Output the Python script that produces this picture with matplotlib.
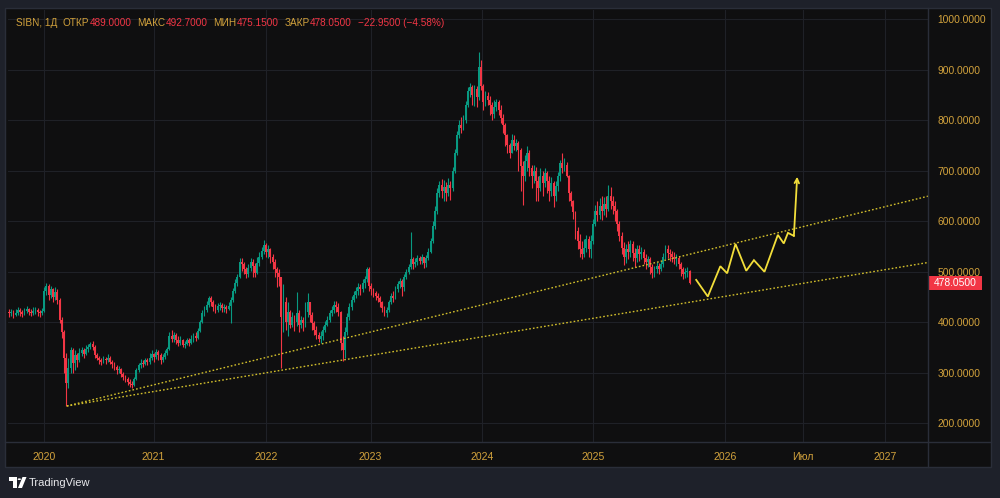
import matplotlib.pyplot as plt
from matplotlib.patches import Rectangle, Polygon, Circle
from matplotlib.lines import Line2D
import numpy as np

plt.rcParams['font.family'] = ['Liberation Sans', 'DejaVu Sans']

# weekly candles, Sep 2019 .. Oct 2025 (open = previous close)
first_open = 420.0
closes = [
    418, 421, 415, 419, 424, 420, 417, 422, 426, 421, 419, 423, 425, 420, 418, 422,
    462, 472, 455, 465, 450, 460, 445, 405, 380, 330, 280,
    310, 345, 320, 335, 325, 340, 345, 338, 348, 352, 358, 352,
    335, 330, 325, 322, 328, 325, 330, 322, 318, 312, 305, 308, 298, 292, 288, 282, 278, 276,
    288, 305, 315, 320, 318, 325, 322, 330, 338, 332, 342, 335, 325, 332, 340, 348,
    372, 368, 375, 365, 360, 366, 356, 358, 365, 360, 368, 372, 370, 382,
    400, 418, 425, 435, 448, 440, 430, 425, 432, 435, 428, 430, 426, 432,
    445, 462, 478, 490, 520, 515, 505, 495, 508, 520, 512, 498, 518, 530, 542, 552, 540, 545, 530, 520, 505, 498, 490,
    410, 440, 400, 420, 395, 410, 400, 418, 395, 405, 398, 420, 440, 415, 398, 385, 375, 368, 372, 385, 395, 405, 418, 425, 435, 430, 420,
    360, 345, 380, 410, 430, 445, 455, 462, 470, 466, 478, 485, 505,
    472, 465, 458, 452, 448, 440, 428, 418, 425, 440, 452, 448, 465, 475, 482, 470, 490, 500, 510, 525, 515, 520, 528, 522, 530, 518, 528,
    540, 560, 590, 620, 655, 672, 660, 668, 655, 672, 665, 700, 735, 770, 790, 785, 800, 830, 858, 865, 850, 862, 845,
    905, 868, 835, 848, 840, 830, 812, 825, 835, 820, 805, 790, 770, 750, 735, 760, 748,
    755, 740, 710, 690, 720, 735, 705, 690, 700, 680, 665, 690, 675, 695, 680, 660, 675, 650, 670, 690, 715, 705, 712, 690,
    655, 640, 618, 580, 560, 545, 535, 548, 565, 545, 560, 595, 620, 612, 630, 620, 635, 625, 650, 640, 630, 620, 595, 570, 548,
    530, 545, 540, 555, 538, 528, 545, 535, 540, 528, 520, 525, 510, 498, 505, 512, 505, 515, 530, 545, 538, 535, 530, 525, 528, 515, 505, 495, 500, 501, 478.05,
]
highs = [
    426, 427, 424, 426, 430, 428, 425, 429, 432, 429, 426, 430, 431, 428, 425, 428,
    470, 478, 475, 472, 468, 470, 466, 448, 410, 385, 340,
    330, 352, 350, 345, 340, 350, 352, 350, 355, 358, 362, 363,
    355, 340, 334, 330, 333, 332, 338, 334, 326, 322, 316, 314, 310, 302, 296, 292, 288, 284,
    292, 310, 320, 328, 326, 330, 330, 340, 345, 340, 348, 346, 340, 338, 345, 352,
    380, 385, 380, 378, 372, 372, 368, 364, 370, 370, 374, 378, 380, 388,
    405, 424, 432, 442, 452, 452, 444, 436, 438, 440, 438, 436, 434, 440,
    450, 468, 486, 496, 528, 527, 520, 510, 515, 528, 526, 518, 530, 540, 550, 563, 556, 552, 548, 535, 525, 510, 505,
    490, 475, 450, 440, 425, 420, 415, 460, 425, 412, 410, 440, 458, 440, 420, 402, 392, 380, 382, 392, 402, 412, 425, 432, 442, 442, 438,
    422, 372, 390, 418, 438, 452, 462, 470, 478, 476, 485, 492, 510,
    510, 478, 468, 462, 458, 452, 442, 432, 430, 445, 458, 462, 472, 482, 488, 486, 495, 506, 515, 579, 530, 528, 534, 532, 536, 530, 534,
    548, 566, 600, 630, 665, 680, 684, 682, 678, 686, 680, 708, 742, 778, 800, 806, 810, 838, 865, 873, 870, 870, 868,
    935, 918, 872, 858, 855, 848, 835, 840, 842, 840, 830, 812, 795, 772, 755, 772, 770,
    762, 758, 745, 720, 730, 748, 740, 712, 712, 708, 690, 705, 700, 705, 700, 690, 688, 680, 680, 698, 722, 735, 725, 718,
    692, 660, 642, 620, 588, 575, 560, 565, 572, 570, 572, 605, 632, 640, 645, 650, 648, 650, 672, 668, 650, 640, 625, 600, 578,
    558, 555, 560, 563, 560, 548, 552, 552, 550, 546, 535, 532, 530, 515, 512, 520, 518, 522, 538, 553, 552, 545, 542, 540, 535, 532, 520, 510, 508, 510, 503,
]
lows = [
    411, 413, 409, 412, 415, 413, 410, 414, 418, 414, 412, 415, 417, 413, 411, 414,
    420, 455, 445, 448, 440, 445, 436, 398, 370, 300, 234,
    270, 300, 300, 305, 312, 322, 333, 330, 335, 342, 347, 345,
    330, 325, 318, 316, 320, 318, 322, 318, 310, 306, 298, 300, 292, 285, 282, 276, 272, 270,
    274, 285, 302, 310, 312, 315, 316, 318, 326, 322, 328, 326, 318, 322, 328, 335,
    345, 362, 362, 358, 354, 356, 352, 350, 355, 354, 358, 362, 364, 368,
    380, 398, 412, 420, 430, 432, 422, 418, 420, 424, 420, 420, 418, 424,
    398, 440, 458, 472, 488, 502, 496, 488, 490, 502, 490, 490, 495, 512, 525, 535, 530, 528, 518, 505, 490, 470, 472,
    310, 380, 385, 372, 388, 390, 382, 392, 380, 388, 382, 390, 410, 400, 385, 375, 368, 362, 360, 366, 380, 392, 400, 412, 418, 420, 412,
    345, 324, 330, 375, 405, 425, 440, 448, 455, 455, 460, 468, 480,
    462, 455, 450, 444, 440, 430, 420, 412, 411, 420, 436, 440, 446, 460, 468, 452, 462, 485, 495, 505, 506, 510, 514, 515, 515, 508, 510,
    524, 538, 556, 585, 615, 648, 645, 640, 640, 650, 642, 660, 695, 730, 765, 775, 780, 795, 825, 845, 830, 828, 826,
    840, 860, 820, 828, 830, 810, 800, 805, 818, 810, 795, 775, 748, 735, 725, 735, 740,
    738, 700, 660, 632, 680, 700, 690, 665, 675, 640, 640, 660, 650, 668, 655, 640, 650, 628, 640, 660, 680, 695, 700, 688,
    640, 630, 605, 565, 545, 530, 525, 530, 540, 530, 528, 555, 590, 600, 605, 602, 612, 608, 620, 625, 615, 600, 580, 560, 535,
    513, 518, 525, 530, 522, 510, 520, 522, 525, 515, 505, 510, 495, 488, 490, 498, 495, 502, 510, 525, 528, 522, 520, 515, 512, 505, 492, 485, 488, 490, 475.15,
]

# last daily bar (header)
ticker = 'SIBN, 1Д'
last_open, last_high, last_low, last_close = 489.0, 492.7, 475.15, 478.05
last_change, last_change_pct = -22.95, -4.58

# hand drawn forecast path (week index, price)
path_x = [313.0, 318.3, 324.0, 327.1, 330.9, 335.8, 339.3, 344.1, 350.2, 352.9, 354.8, 357.5, 359.0]
path_y = [484, 451, 511, 497, 555, 502, 523, 500, 573, 556, 577, 571, 688]

# trend lines from the March 2020 low
trend_x = [26.3, 419.1]
trend_upper = [234.5, 650.0]
trend_lower = [234.5, 518.7]

time_ticks = [15.9, 65.8, 117.1, 164.7, 215.3, 266.1, 326.2, 361.7, 399.1]
time_labels = ['2020', '2021', '2022', '2023', '2024', '2025', '2026', 'Июл', '2027']
price_ticks = [200, 300, 400, 500, 600, 700, 800, 900, 1000]

UP, DOWN = '#089981', '#f23645'
GOLD = '#d2a23c'
BG = '#0f0f10'
BORDER = '#2a2e39'

W, H = 1000, 498


def px(x, y):
    # pixel (from top-left) -> figure fraction
    return x / W, 1 - y / H


fig = plt.figure(figsize=(10, 4.98), dpi=100, facecolor='#1e212a')
fig.add_artist(Rectangle(px(5, 467), 986 / W, 459 / H, transform=fig.transFigure,
                         facecolor=BG, edgecolor=BORDER, lw=1, zorder=0))

ax = fig.add_axes([8 / W, (H - 442) / H, 920 / W, 432 / H])
ax.set_facecolor(BG)

c = np.array(closes, dtype=float)
h = np.array(highs, dtype=float)
l = np.array(lows, dtype=float)
o = np.r_[first_open, c[:-1]]
h = np.maximum(h, np.maximum(o, c))
l = np.minimum(l, np.minimum(o, c))
x = np.arange(len(c))
cols = np.where(c >= o, UP, DOWN)

ax.vlines(x, l, h, colors=cols, lw=0.8, zorder=3)
ax.bar(x, np.maximum(np.abs(c - o), 1.0), bottom=np.minimum(o, c), width=0.85,
       color=cols, lw=0, zorder=3)

# trend lines
for ty in (trend_upper, trend_lower):
    ax.plot(trend_x, ty, color='#d2bf2c', lw=1.0, ls=(0, (1.2, 1.5)), zorder=4)

# forecast path
ax.plot(path_x[:-1], path_y[:-1], color='#f2de3a', lw=1.3, zorder=5, solid_joinstyle='miter')
ax.annotate('', xy=(path_x[-1], path_y[-1]), xytext=(path_x[-2], path_y[-2]),
            arrowprops=dict(arrowstyle='->', color='#f2de3a', lw=1.3,
                            shrinkA=0, shrinkB=0, mutation_scale=8), zorder=5)

ax.set_xlim(-0.5, 418.6)
ax.set_ylim(163.3, 1017.8)

ax.yaxis.tick_right()
ax.set_yticks(price_ticks)
ax.set_yticklabels([f'{v:.4f}' for v in price_ticks])
ax.tick_params(axis='y', length=0, pad=7, labelcolor=GOLD, labelsize=7.4)
ax.set_xticks(time_ticks)
ax.set_xticklabels(time_labels)
ax.tick_params(axis='x', length=0, pad=7, labelcolor=GOLD, labelsize=7.6)
ax.grid(color='#1f2127', lw=0.8)
ax.set_axisbelow(True)
for s in ax.spines.values():
    s.set_visible(False)

# axis separators
fig.add_artist(Line2D([928 / W] * 2, [px(0, 467)[1], px(0, 8)[1]], transform=fig.transFigure,
                      color=BORDER, lw=1))
fig.add_artist(Line2D([5 / W, 991 / W], [px(0, 442)[1]] * 2, transform=fig.transFigure,
                      color=BORDER, lw=1))

# last price tag
ytr = ax.get_yaxis_transform()
ax.add_patch(Rectangle((1.0, last_close - 14), 54 / 920, 28, transform=ytr,
                       facecolor=DOWN, edgecolor='none', clip_on=False, zorder=6))
ax.text(1.0 + 27 / 920, last_close, f'{last_close:.4f}', transform=ytr, ha='center',
        va='center', color='white', fontsize=7.4, clip_on=False, zorder=7)

# header, laid out piece by piece
hy = px(0, 22.5)[1]
pieces = [
    (ticker, GOLD, 6), ('ОТКР', GOLD, 0), (f'{last_open:.4f}', DOWN, 6),
    ('МАКС', GOLD, 0), (f'{last_high:.4f}', DOWN, 6),
    ('МИН', GOLD, 0), (f'{last_low:.4f}', DOWN, 6),
    ('ЗАКР', GOLD, 0), (f'{last_close:.4f}', DOWN, 6),
    (f'−{abs(last_change):.4f} (−{abs(last_change_pct):.2f}%)', DOWN, 0),
]
renderer = fig.canvas.get_renderer()
xp = 15.5
for t, col, gap in pieces:
    txt = fig.text(xp / W, hy, t, color=col, fontsize=7.2, va='center', ha='left')
    xp += txt.get_window_extent(renderer).width + gap

# TradingView logo
fig.add_artist(Polygon([px(9, 477), px(17, 477), px(17, 488), px(13, 488), px(13, 481), px(9, 481)],
                       closed=True, transform=fig.transFigure, facecolor='white', edgecolor='none'))
fig.add_artist(Circle(px(19.3, 479.2), 1.7 / W, transform=fig.transFigure, facecolor='white',
                      edgecolor='none'))
fig.add_artist(Polygon([px(22.5, 477), px(26.5, 477), px(22, 488), px(18, 488)],
                       closed=True, transform=fig.transFigure, facecolor='white', edgecolor='none'))
fig.text(28.5 / W, px(0, 483)[1], 'TradingView', color='#e8e9ec', fontsize=8, va='center', ha='left')

fig.savefig('out.png', dpi=100, facecolor=fig.get_facecolor())
